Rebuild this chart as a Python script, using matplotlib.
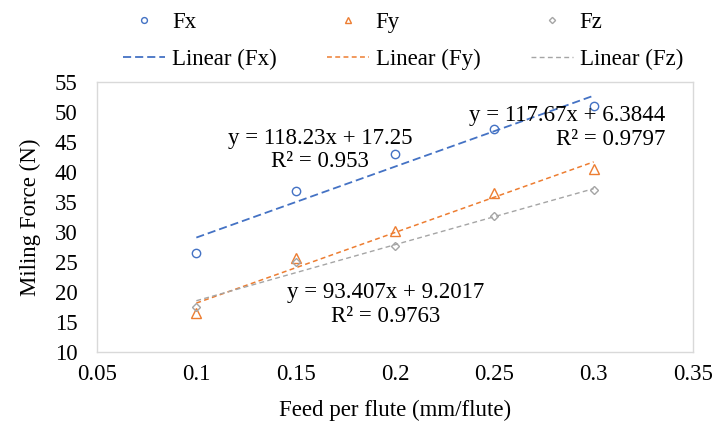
import matplotlib
matplotlib.use("Agg")
import matplotlib.pyplot as plt
from matplotlib.lines import Line2D
import numpy as np

plt.rcParams["font.family"] = ["Liberation Serif", "DejaVu Serif"]

# données
feed = [0.10, 0.15, 0.20, 0.25, 0.30]
fx = [26.5, 36.8, 43.0, 47.1, 51.0]
fy = [16.5, 25.7, 30.2, 36.5, 40.5]
fz = [17.5, 25.0, 27.6, 32.7, 37.0]

# coefficients des courbes de tendance (pente, ordonnée)
fit_fx = (118.23, 17.25)
fit_fy = (117.67, 6.3844)
fit_fz = (93.407, 9.2017)

eq_labels = ["y = 118.23x + 17.25\nR² = 0.953",
             "y = 117.67x + 6.3844\nR² = 0.9797",
             "y = 93.407x + 9.2017\nR² = 0.9763"]

BLUE, ORANGE, GREY = "#4472C4", "#ED7D31", "#A5A5A5"
FS = 16.5

fig = plt.figure(figsize=(7.15, 4.26), dpi=100)
ax = fig.add_axes([97 / 715, 1 - 352 / 426, 596 / 715, 270 / 426])

# nom, valeurs, tendance, couleur, marqueur, taille, épaisseur, tirets
series = [
    ("Fx", fx, fit_fx, BLUE, "o", 6.0, 1.3, (0, (4.5, 2.2))),
    ("Fy", fy, fit_fy, ORANGE, "^", 6.5, 1.1, (0, (3.2, 2.2))),
    ("Fz", fz, fit_fz, GREY, "D", 4.5, 1.0, (0, (3.5, 2.4))),
]

handles = []
xs = np.array([feed[0], feed[-1]])
for name, vals, (m, b), col, mk, ms, lw, dash in series:
    ax.plot(feed, vals, linestyle="none", marker=mk, markersize=ms,
            markerfacecolor="none", markeredgecolor=col, markeredgewidth=1.0,
            zorder=3)
    ax.plot(xs, m * xs + b, linestyle=dash, color=col, lw=lw, zorder=2)
    handles.append(Line2D([], [], linestyle="none", marker=mk, markersize=ms * 0.7,
                          markerfacecolor="none", markeredgecolor=col,
                          markeredgewidth=1.0, label=name))
    handles.append(Line2D([], [], color=col, lw=lw, linestyle=dash,
                          label=f"Linear ({name})"))

ax.text(0.1623, 43.7, eq_labels[0], ha="center", va="center", fontsize=FS,
        linespacing=1.15)
ax.text(0.336, 47.4, eq_labels[1], ha="right", va="center", fontsize=FS,
        linespacing=1.15, multialignment="right")
ax.text(0.1955, 17.9, eq_labels[2], ha="center", va="center", fontsize=FS,
        linespacing=1.15)

ax.set_xlim(0.05, 0.35)
ax.set_ylim(10, 55)
ax.set_xticks([0.05, 0.1, 0.15, 0.2, 0.25, 0.3, 0.35])
ax.set_xticklabels(["0.05", "0.1", "0.15", "0.2", "0.25", "0.3", "0.35"])
ax.set_yticks(range(10, 56, 5))
ax.tick_params(length=0, labelsize=FS, colors="black")
ax.tick_params(axis="x", pad=9)
ax.tick_params(axis="y", pad=14)
for sp in ax.spines.values():
    sp.set_color("#D9D9D9")
    sp.set_linewidth(1.0)

ax.set_xlabel("Feed per flute (mm/flute)", fontsize=FS, labelpad=10)
ax.set_ylabel("Miling Force (N)", fontsize=FS, labelpad=10)

fig.legend(handles=handles, ncol=3, loc="upper left",
           bbox_to_anchor=(123 / 715, 1 - 12 / 426), frameon=False, fontsize=FS,
           borderpad=0, borderaxespad=0,
           handlelength=1.83, handletextpad=0.3, columnspacing=2.2,
           labelspacing=0.68)

fig.savefig("out.png", dpi=100)
